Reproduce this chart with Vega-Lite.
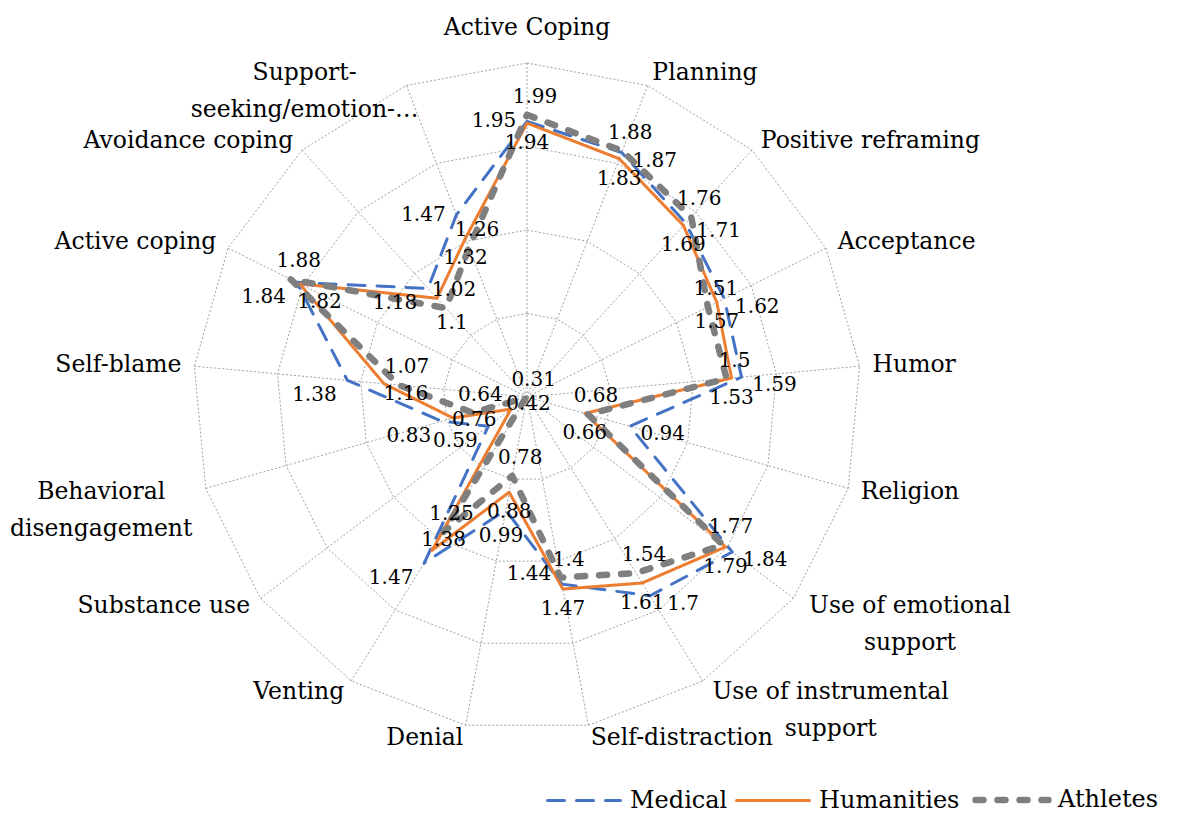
{
  "$schema": "https://vega.github.io/schema/vega-lite/v6.json",
  "width": 1181,
  "height": 815,
  "autosize": {"type": "none"},
  "padding": 0,
  "background": "white",
  "config": {"view": {"stroke": null}, "font": "DejaVu Serif"},
  "datasets": {
    "cats": [
      {"k": 0, "category": "Active Coping", "ticks": [0.8, 1.3, 1.8, 2.3], "ends": [0.3, 2.3]},
      {"k": 1, "category": "Planning", "ticks": [0.8, 1.3, 1.8, 2.3], "ends": [0.3, 2.3]},
      {"k": 2, "category": "Positive reframing", "ticks": [0.8, 1.3, 1.8, 2.3], "ends": [0.3, 2.3]},
      {"k": 3, "category": "Acceptance", "ticks": [0.8, 1.3, 1.8, 2.3], "ends": [0.3, 2.3]},
      {"k": 4, "category": "Humor", "ticks": [0.8, 1.3, 1.8, 2.3], "ends": [0.3, 2.3]},
      {"k": 5, "category": "Religion", "ticks": [0.8, 1.3, 1.8, 2.3], "ends": [0.3, 2.3]},
      {"k": 6, "category": "Use of emotional\nsupport", "ticks": [0.8, 1.3, 1.8, 2.3], "ends": [0.3, 2.3]},
      {"k": 7, "category": "Use of instrumental\nsupport", "ticks": [0.8, 1.3, 1.8, 2.3], "ends": [0.3, 2.3]},
      {"k": 8, "category": "Self-distraction", "ticks": [0.8, 1.3, 1.8, 2.3], "ends": [0.3, 2.3]},
      {"k": 9, "category": "Denial", "ticks": [0.8, 1.3, 1.8, 2.3], "ends": [0.3, 2.3]},
      {"k": 10, "category": "Venting", "ticks": [0.8, 1.3, 1.8, 2.3], "ends": [0.3, 2.3]},
      {"k": 11, "category": "Substance use", "ticks": [0.8, 1.3, 1.8, 2.3], "ends": [0.3, 2.3]},
      {"k": 12, "category": "Behavioral\ndisengagement", "ticks": [0.8, 1.3, 1.8, 2.3], "ends": [0.3, 2.3]},
      {"k": 13, "category": "Self-blame", "ticks": [0.8, 1.3, 1.8, 2.3], "ends": [0.3, 2.3]},
      {"k": 14, "category": "Active coping", "ticks": [0.8, 1.3, 1.8, 2.3], "ends": [0.3, 2.3]},
      {"k": 15, "category": "Avoidance coping", "ticks": [0.8, 1.3, 1.8, 2.3], "ends": [0.3, 2.3]},
      {"k": 16, "category": "Support-\nseeking/emotion-…", "ticks": [0.8, 1.3, 1.8, 2.3], "ends": [0.3, 2.3]}
    ],
    "scores": [
      {"series": "Medical", "k": 0, "value": 1.95},
      {"series": "Medical", "k": 1, "value": 1.87},
      {"series": "Medical", "k": 2, "value": 1.71},
      {"series": "Medical", "k": 3, "value": 1.62},
      {"series": "Medical", "k": 4, "value": 1.59},
      {"series": "Medical", "k": 5, "value": 0.94},
      {"series": "Medical", "k": 6, "value": 1.84},
      {"series": "Medical", "k": 7, "value": 1.7},
      {"series": "Medical", "k": 8, "value": 1.44},
      {"series": "Medical", "k": 9, "value": 0.99},
      {"series": "Medical", "k": 10, "value": 1.47},
      {"series": "Medical", "k": 11, "value": 0.59},
      {"series": "Medical", "k": 12, "value": 0.83},
      {"series": "Medical", "k": 13, "value": 1.38},
      {"series": "Medical", "k": 14, "value": 1.84},
      {"series": "Medical", "k": 15, "value": 1.18},
      {"series": "Medical", "k": 16, "value": 1.47},
      {"series": "Humanities", "k": 0, "value": 1.94},
      {"series": "Humanities", "k": 1, "value": 1.83},
      {"series": "Humanities", "k": 2, "value": 1.69},
      {"series": "Humanities", "k": 3, "value": 1.57},
      {"series": "Humanities", "k": 4, "value": 1.53},
      {"series": "Humanities", "k": 5, "value": 0.66},
      {"series": "Humanities", "k": 6, "value": 1.79},
      {"series": "Humanities", "k": 7, "value": 1.61},
      {"series": "Humanities", "k": 8, "value": 1.47},
      {"series": "Humanities", "k": 9, "value": 0.88},
      {"series": "Humanities", "k": 10, "value": 1.38},
      {"series": "Humanities", "k": 11, "value": 0.42},
      {"series": "Humanities", "k": 12, "value": 0.76},
      {"series": "Humanities", "k": 13, "value": 1.16},
      {"series": "Humanities", "k": 14, "value": 1.82},
      {"series": "Humanities", "k": 15, "value": 1.1},
      {"series": "Humanities", "k": 16, "value": 1.32},
      {"series": "Athletes", "k": 0, "value": 1.99},
      {"series": "Athletes", "k": 1, "value": 1.88},
      {"series": "Athletes", "k": 2, "value": 1.76},
      {"series": "Athletes", "k": 3, "value": 1.51},
      {"series": "Athletes", "k": 4, "value": 1.5},
      {"series": "Athletes", "k": 5, "value": 0.68},
      {"series": "Athletes", "k": 6, "value": 1.77},
      {"series": "Athletes", "k": 7, "value": 1.54},
      {"series": "Athletes", "k": 8, "value": 1.4},
      {"series": "Athletes", "k": 9, "value": 0.78},
      {"series": "Athletes", "k": 10, "value": 1.25},
      {"series": "Athletes", "k": 11, "value": 0.31},
      {"series": "Athletes", "k": 12, "value": 0.64},
      {"series": "Athletes", "k": 13, "value": 1.07},
      {"series": "Athletes", "k": 14, "value": 1.88},
      {"series": "Athletes", "k": 15, "value": 1.02},
      {"series": "Athletes", "k": 16, "value": 1.26}
    ]
  },
  "layer": [
    {
      "data": {"name": "cats"},
      "transform": [
        {"flatten": ["ticks"], "as": ["tick"]},
        {"calculate": "2*PI*datum.k/17", "as": "theta"},
        {"calculate": "(datum.tick-0.3)/2*sin(datum.theta)", "as": "gx"},
        {"calculate": "(datum.tick-0.3)/2*cos(datum.theta)", "as": "gy"}
      ],
      "mark": {"type": "line", "interpolate": "linear-closed", "color": "#a0a0a0", "strokeWidth": 1, "strokeDash": [2, 2]},
      "encoding": {
        "x": {"field": "gx", "type": "quantitative", "scale": {"domain": [-1.5778, 1.9581], "nice": false, "zero": false}, "axis": null},
        "y": {"field": "gy", "type": "quantitative", "scale": {"domain": [-1.2515, 1.1886], "nice": false, "zero": false}, "axis": null},
        "detail": {"field": "tick", "type": "nominal"},
        "order": {"field": "k", "type": "quantitative"}
      }
    },
    {
      "data": {"name": "cats"},
      "transform": [
        {"flatten": ["ends"], "as": ["end"]},
        {"calculate": "2*PI*datum.k/17", "as": "theta"},
        {"calculate": "(datum.end-0.3)/2*sin(datum.theta)", "as": "sx"},
        {"calculate": "(datum.end-0.3)/2*cos(datum.theta)", "as": "sy"}
      ],
      "mark": {"type": "line", "color": "#a0a0a0", "strokeWidth": 1, "strokeDash": [2, 2]},
      "encoding": {
        "x": {"field": "sx", "type": "quantitative"},
        "y": {"field": "sy", "type": "quantitative"},
        "detail": {"field": "k", "type": "nominal"},
        "order": {"field": "end", "type": "quantitative"}
      }
    },
    {
      "data": {"name": "scores"},
      "transform": [
        {"filter": {"field": "series", "equal": "Medical"}},
        {"calculate": "2*PI*datum.k/17", "as": "theta"},
        {"calculate": "(datum.value-0.3)/2*sin(datum.theta)", "as": "px"},
        {"calculate": "(datum.value-0.3)/2*cos(datum.theta)", "as": "py"}
      ],
      "mark": {"type": "line", "interpolate": "linear-closed", "strokeCap": "round", "strokeJoin": "round", "strokeWidth": 3},
      "encoding": {
        "x": {"field": "px", "type": "quantitative"},
        "y": {"field": "py", "type": "quantitative"},
        "order": {"field": "k", "type": "quantitative"},
        "color": {
          "field": "series", "type": "nominal",
          "scale": {"domain": ["Medical", "Humanities", "Athletes"], "range": ["#4472C4", "#ED7D31", "#7F7F7F"]},
          "legend": {
            "orient": "none", "legendX": 572, "legendY": 788, "direction": "horizontal", "title": null,
            "symbolType": "stroke", "symbolSize": 5329, "labelFont": "DejaVu Serif", "labelFontSize": 24,
            "labelColor": "#000000", "labelOffset": 34, "columnPadding": 2,
            "encode": {"symbols": {"update": {"strokeWidth": {"signal": "datum.value === 'Athletes' ? 6.5 : 3"}, "strokeCap": {"value": "round"}}}}
          }
        },
        "strokeDash": {
          "field": "series", "type": "nominal",
          "scale": {"domain": ["Medical", "Humanities", "Athletes"], "range": [[17, 12], [1, 0], [8, 14]]}
        }
      }
    },
    {
      "data": {"name": "scores"},
      "transform": [
        {"filter": {"field": "series", "equal": "Humanities"}},
        {"calculate": "2*PI*datum.k/17", "as": "theta"},
        {"calculate": "(datum.value-0.3)/2*sin(datum.theta)", "as": "px"},
        {"calculate": "(datum.value-0.3)/2*cos(datum.theta)", "as": "py"}
      ],
      "mark": {"type": "line", "interpolate": "linear-closed", "strokeCap": "round", "strokeJoin": "round", "strokeWidth": 3},
      "encoding": {
        "x": {"field": "px", "type": "quantitative"},
        "y": {"field": "py", "type": "quantitative"},
        "order": {"field": "k", "type": "quantitative"},
        "color": {"field": "series", "type": "nominal"},
        "strokeDash": {"field": "series", "type": "nominal"}
      }
    },
    {
      "data": {"name": "scores"},
      "transform": [
        {"filter": {"field": "series", "equal": "Athletes"}},
        {"calculate": "2*PI*datum.k/17", "as": "theta"},
        {"calculate": "(datum.value-0.3)/2*sin(datum.theta)", "as": "px"},
        {"calculate": "(datum.value-0.3)/2*cos(datum.theta)", "as": "py"}
      ],
      "mark": {"type": "line", "interpolate": "linear-closed", "strokeCap": "round", "strokeJoin": "round", "strokeWidth": 6.5},
      "encoding": {
        "x": {"field": "px", "type": "quantitative"},
        "y": {"field": "py", "type": "quantitative"},
        "order": {"field": "k", "type": "quantitative"},
        "color": {"field": "series", "type": "nominal"},
        "strokeDash": {"field": "series", "type": "nominal"}
      }
    },
    {
      "data": {"name": "scores"},
      "transform": [
        {"calculate": "2*PI*datum.k/17", "as": "theta"},
        {"calculate": "sin(datum.theta)", "as": "s"},
        {"calculate": "cos(datum.theta)", "as": "c"},
        {"calculate": "datum.series=='Athletes' ? 8 : (datum.series=='Medical' ? (datum.s > 0.3 ? 33 : (abs(datum.s) < 0.3 && datum.c < 0 && datum.s < 0 ? 26*datum.s : -33)) : (datum.s < -0.5 ? -22*datum.s : 0))", "as": "ox"},
        {"calculate": "datum.series=='Athletes' ? 18 : (datum.series=='Medical' ? (datum.s > 0.3 ? -8 : (abs(datum.s) < 0.3 && datum.c < 0 ? (datum.s < 0 ? 26*datum.c : 10) : (datum.c > 0.9 ? 0 : -15))) : (datum.s < -0.5 ? -22*datum.c - 8 : -20))", "as": "oy"},
        {"calculate": "(datum.value-0.3)/2*datum.s + datum.ox/334", "as": "lx"},
        {"calculate": "(datum.value-0.3)/2*datum.c + datum.oy/334", "as": "ly"}
      ],
      "mark": {"type": "text", "font": "DejaVu Serif", "fontSize": 20, "color": "#000000", "align": "center", "baseline": "middle"},
      "encoding": {
        "x": {"field": "lx", "type": "quantitative"},
        "y": {"field": "ly", "type": "quantitative"},
        "text": {"field": "value", "type": "nominal"}
      }
    },
    {
      "data": {"name": "cats"},
      "transform": [
        {"filter": {"field": "k", "oneOf": [1, 2, 3, 4, 5, 8]}},
        {"calculate": "2*PI*datum.k/17", "as": "theta"},
        {"calculate": "1.039*sin(datum.theta)", "as": "cx"},
        {"calculate": "1.039*cos(datum.theta)", "as": "cy"}
      ],
      "mark": {"type": "text", "font": "DejaVu Serif", "fontSize": 23.5, "color": "#000000", "align": "left", "baseline": "middle"},
      "encoding": {"x": {"field": "cx", "type": "quantitative"}, "y": {"field": "cy", "type": "quantitative"}, "text": {"field": "category", "type": "nominal"}}
    },
    {
      "data": {"name": "cats"},
      "transform": [
        {"filter": {"field": "k", "oneOf": [9, 10, 11, 13, 14, 15]}},
        {"calculate": "2*PI*datum.k/17", "as": "theta"},
        {"calculate": "1.039*sin(datum.theta)", "as": "cx"},
        {"calculate": "1.039*cos(datum.theta)", "as": "cy"}
      ],
      "mark": {"type": "text", "font": "DejaVu Serif", "fontSize": 23.5, "color": "#000000", "align": "right", "baseline": "middle"},
      "encoding": {"x": {"field": "cx", "type": "quantitative"}, "y": {"field": "cy", "type": "quantitative"}, "text": {"field": "category", "type": "nominal"}}
    },
    {
      "data": {"name": "cats"},
      "transform": [
        {"filter": {"field": "k", "equal": 0}},
        {"calculate": "2*PI*datum.k/17", "as": "theta"},
        {"calculate": "1.039*sin(datum.theta)", "as": "cx"},
        {"calculate": "1.039*cos(datum.theta)", "as": "cy"}
      ],
      "mark": {"type": "text", "font": "DejaVu Serif", "fontSize": 23.5, "color": "#000000", "align": "center", "baseline": "middle", "dy": -22},
      "encoding": {"x": {"field": "cx", "type": "quantitative"}, "y": {"field": "cy", "type": "quantitative"}, "text": {"field": "category", "type": "nominal"}}
    },
    {
      "data": {"name": "cats"},
      "transform": [
        {"filter": {"field": "k", "equal": 6}},
        {"calculate": "2*PI*datum.k/17", "as": "theta"},
        {"calculate": "1.039*sin(datum.theta)", "as": "cx"},
        {"calculate": "1.039*cos(datum.theta)", "as": "cy"}
      ],
      "mark": {"type": "text", "font": "DejaVu Serif", "fontSize": 23.5, "color": "#000000", "align": "center", "baseline": "middle", "lineBreak": "\n", "lineHeight": 37, "dx": 106},
      "encoding": {"x": {"field": "cx", "type": "quantitative"}, "y": {"field": "cy", "type": "quantitative"}, "text": {"field": "category", "type": "nominal"}}
    },
    {
      "data": {"name": "cats"},
      "transform": [
        {"filter": {"field": "k", "equal": 7}},
        {"calculate": "2*PI*datum.k/17", "as": "theta"},
        {"calculate": "1.039*sin(datum.theta)", "as": "cx"},
        {"calculate": "1.039*cos(datum.theta)", "as": "cy"}
      ],
      "mark": {"type": "text", "font": "DejaVu Serif", "fontSize": 23.5, "color": "#000000", "align": "center", "baseline": "middle", "lineBreak": "\n", "lineHeight": 37, "dx": 121},
      "encoding": {"x": {"field": "cx", "type": "quantitative"}, "y": {"field": "cy", "type": "quantitative"}, "text": {"field": "category", "type": "nominal"}}
    },
    {
      "data": {"name": "cats"},
      "transform": [
        {"filter": {"field": "k", "equal": 12}},
        {"calculate": "2*PI*datum.k/17", "as": "theta"},
        {"calculate": "1.039*sin(datum.theta)", "as": "cx"},
        {"calculate": "1.039*cos(datum.theta)", "as": "cy"}
      ],
      "mark": {"type": "text", "font": "DejaVu Serif", "fontSize": 23.5, "color": "#000000", "align": "center", "baseline": "middle", "lineBreak": "\n", "lineHeight": 37, "dx": -92},
      "encoding": {"x": {"field": "cx", "type": "quantitative"}, "y": {"field": "cy", "type": "quantitative"}, "text": {"field": "category", "type": "nominal"}}
    },
    {
      "data": {"name": "cats"},
      "transform": [
        {"filter": {"field": "k", "equal": 16}},
        {"calculate": "2*PI*datum.k/17", "as": "theta"},
        {"calculate": "1.039*sin(datum.theta)", "as": "cx"},
        {"calculate": "1.039*cos(datum.theta)", "as": "cy"}
      ],
      "mark": {"type": "text", "font": "DejaVu Serif", "fontSize": 23.5, "color": "#000000", "align": "center", "baseline": "middle", "lineBreak": "\n", "lineHeight": 37, "dx": -97},
      "encoding": {"x": {"field": "cx", "type": "quantitative"}, "y": {"field": "cy", "type": "quantitative"}, "text": {"field": "category", "type": "nominal"}}
    }
  ]
}
